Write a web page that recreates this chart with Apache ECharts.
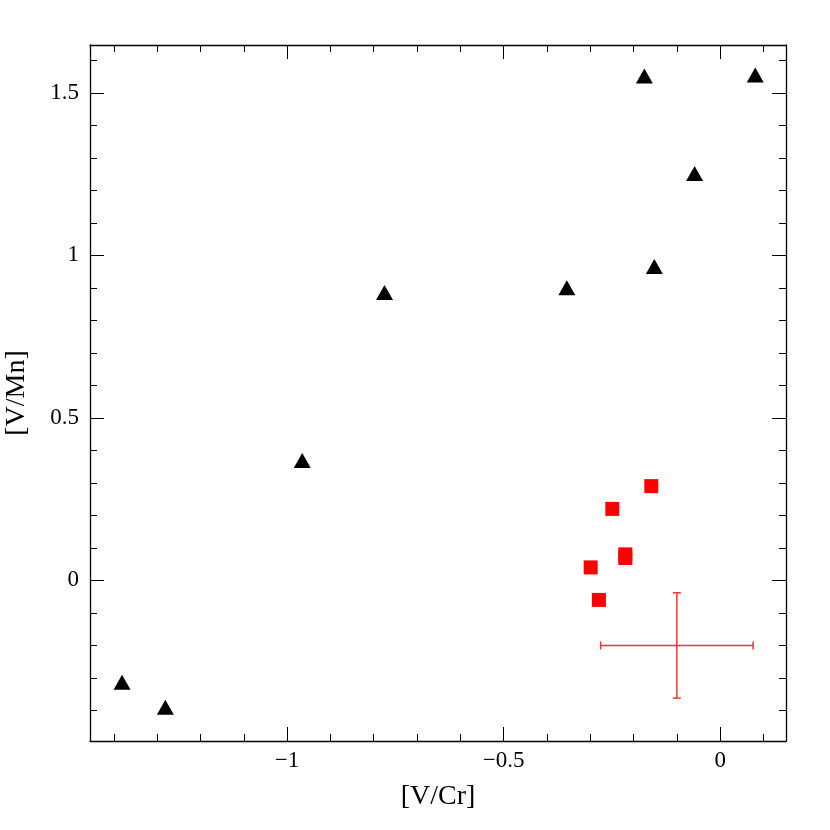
<!DOCTYPE html>
<html>
<head>
<meta charset="utf-8">
<script src="https://cdn.jsdelivr.net/npm/echarts@6/dist/echarts.min.js"></script>
<style>
  html, body { margin: 0; padding: 0; background: #fff; }
  #main { width: 830px; height: 830px; }
</style>
</head>
<body>
<div id="main"></div>
<script type="text/javascript">
// triangles (black)
var triX = [-1.381, -1.281, -0.965, -0.775, -0.354, -0.152, -0.175, 0.081, -0.059];
var triY = [-0.313, -0.390, 0.369, 0.886, 0.900, 0.966, 1.552, 1.555, 1.252];
// squares (red)
var sqX = [-0.159, -0.249, -0.219, -0.219, -0.299, -0.280];
var sqY = [0.290, 0.220, 0.080, 0.069, 0.040, -0.060];
// typical error bar: x, y, xerr, yerr
var errBar = [-0.100, -0.200, 0.176, 0.162];

var xRange = [-1.455, 0.152];
var yRange = [-0.494, 1.647];
var xMajor = [-1, -0.5, 0];
var xMinor = [-1.4, -1.3, -1.2, -1.1, -1, -0.9, -0.8, -0.7, -0.6, -0.5, -0.4, -0.3, -0.2, -0.1, 0, 0.1];
var yMajor = [0, 0.5, 1, 1.5];
var yMinor = [-0.4, -0.3, -0.2, -0.1, 0, 0.1, 0.2, 0.3, 0.4, 0.5, 0.6, 0.7, 0.8, 0.9, 1, 1.1, 1.2, 1.3, 1.4, 1.5, 1.6];

(function(){
    var myChart = echarts.init(document.getElementById('main'));
    var font = "'Liberation Serif', 'DejaVu Serif', serif";

    function fmt(v) {
        return String(v).replace('-', '\u2212');
    }

    function makeAxis(dim, pos, grid, ticks, len, showLine, labels, name) {
        var range = dim === 'x' ? xRange : yRange;
        var ax = {
            type: 'value',
            gridIndex: grid,
            position: pos,
            min: range[0],
            max: range[1],
            splitLine: { show: false },
            axisLine: { show: showLine, onZero: false, lineStyle: { color: '#000', width: 1.3 } },
            axisTick: {
                show: true, inside: true, length: len,
                customValues: ticks,
                lineStyle: { color: '#000', width: 1 }
            },
            axisLabel: { show: false }
        };
        if (labels) {
            ax.axisLabel = {
                show: true,
                customValues: labels,
                formatter: fmt,
                color: '#000',
                fontFamily: font,
                fontSize: 23,
                margin: dim === 'x' ? 8 : 11
            };
        }
        if (name) {
            ax.name = name;
            ax.nameLocation = 'middle';
            ax.nameGap = dim === 'x' ? 42 : 59;
            ax.nameTextStyle = { color: '#000', fontFamily: font, fontSize: 28 };
        }
        return ax;
    }

    var gridBox = { left: 90, top: 45, right: 44, bottom: 89, outerBoundsMode: 'none', containLabel: false };

    var option = {
        animation: false,
        backgroundColor: '#fff',
        grid: [
            Object.assign({}, gridBox),
            Object.assign({}, gridBox)
        ],
        xAxis: [
            makeAxis('x', 'bottom', 0, xMinor, 7, true, xMajor, '[V/Cr]'),
            makeAxis('x', 'top', 0, xMinor, 7, true),
            makeAxis('x', 'bottom', 1, xMajor, 14, false),
            makeAxis('x', 'top', 1, xMajor, 14, false)
        ],
        yAxis: [
            makeAxis('y', 'left', 0, yMinor, 7, true, yMajor, '[V/Mn]'),
            makeAxis('y', 'right', 0, yMinor, 7, true),
            makeAxis('y', 'left', 1, yMajor, 14, false),
            makeAxis('y', 'right', 1, yMajor, 14, false)
        ],
        series: [
            {
                name: 'triangles',
                type: 'scatter',
                xAxisIndex: 0,
                yAxisIndex: 0,
                symbol: 'triangle',
                symbolSize: [17, 15],
                itemStyle: { color: '#000', opacity: 1 },
                data: triX.map(function (x, i) { return [x, triY[i]]; })
            },
            {
                name: 'squares',
                type: 'scatter',
                xAxisIndex: 0,
                yAxisIndex: 0,
                symbol: 'rect',
                symbolSize: 14,
                itemStyle: { color: '#ff0000', opacity: 1 },
                data: sqX.map(function (x, i) { return [x, sqY[i]]; })
            },
            {
                name: 'error',
                type: 'custom',
                xAxisIndex: 0,
                yAxisIndex: 0,
                data: [errBar],
                renderItem: function (params, api) {
                    var x = api.value(0), y = api.value(1), ex = api.value(2), ey = api.value(3);
                    var l = api.coord([x - ex, y]);
                    var r = api.coord([x + ex, y]);
                    var t = api.coord([x, y + ey]);
                    var b = api.coord([x, y - ey]);
                    var st = { stroke: '#ff3030', lineWidth: 1.5 };
                    var cap = 4;
                    return {
                        type: 'group',
                        children: [
                            { type: 'line', shape: { x1: l[0], y1: l[1], x2: r[0], y2: r[1] }, style: st },
                            { type: 'line', shape: { x1: t[0], y1: t[1], x2: b[0], y2: b[1] }, style: st },
                            { type: 'line', shape: { x1: l[0], y1: l[1] - cap, x2: l[0], y2: l[1] + cap }, style: st },
                            { type: 'line', shape: { x1: r[0], y1: r[1] - cap, x2: r[0], y2: r[1] + cap }, style: st },
                            { type: 'line', shape: { x1: t[0] - cap, y1: t[1], x2: t[0] + cap, y2: t[1] }, style: st },
                            { type: 'line', shape: { x1: b[0] - cap, y1: b[1], x2: b[0] + cap, y2: b[1] }, style: st }
                        ]
                    };
                }
            }
        ]
    };

    myChart.setOption(option);
})();
</script>
</body>
</html>
